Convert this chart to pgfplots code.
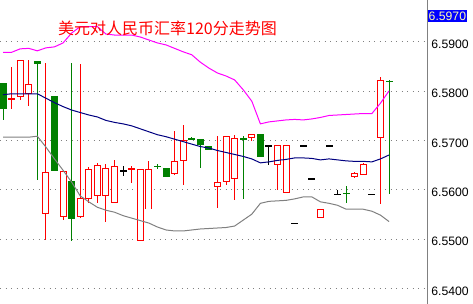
\documentclass[border=0pt]{standalone}
\usepackage{pgfplots}
\usepackage{pgfplotstable}
\pgfplotsset{compat=1.18}
\usepackage{fontspec}
\setmainfont{Liberation Sans}
\newfontfamily\cjk{Noto Sans CJK SC}
\definecolor{cRed}{RGB}{255,0,0}
\definecolor{cGreen}{RGB}{0,128,0}
\definecolor{cMag}{RGB}{255,0,255}
\definecolor{cNavy}{RGB}{0,0,128}
\definecolor{cGray}{RGB}{128,128,128}
\definecolor{cLab}{RGB}{255,255,170}

\pgfplotstableread{
i o h l c
1 6.5784 6.5850 6.5764 6.5787
2 6.5789 6.5865 6.5784 6.5865
3 6.5797 6.5865 6.5771 6.5816
5 6.5553 6.5857 6.5500 6.5638
7 6.5545 6.5638 6.5540 6.5638
9 6.5545 6.5857 6.5545 6.5583
10 6.5583 6.5647 6.5573 6.5644
11 6.5588 6.5655 6.5574 6.5650
12 6.5588 6.5655 6.5536 6.5646
13 6.5575 6.5661 6.5575 6.5650
15 6.5643 6.5650 6.5615 6.5644
16 6.5498 6.5644 6.5498 6.5644
17 6.5561 6.5659 6.5561 6.5644
20 6.5632 6.5720 6.5632 6.5659
21 6.5660 6.5733 6.5611 6.5701
25 6.5607 6.5711 6.5566 6.5617
26 6.5617 6.5711 6.5611 6.5711
27 6.5622 6.5711 6.5580 6.5705
29 6.5705 6.5713 6.5701 6.5713
32 6.5652 6.5691 6.5601 6.5691
33 6.5593 6.5691 6.5593 6.5691
37 6.5543 6.5562 6.5543 6.5562
41 6.5626 6.5638 6.5626 6.5634
42 6.5632 6.5657 6.5632 6.5654
44 6.5707 6.5831 6.5574 6.5823
}\redtab

\pgfplotstableread{
i o h l c
0 6.5817 6.5817 6.5744 6.5765
4 6.5861 6.5861 6.5620 6.5856
6 6.5790 6.5790 6.5639 6.5639
8 6.5618 6.5857 6.5497 6.5541
18 6.5649 6.5654 6.5644 6.5648
19 6.5646 6.5646 6.5627 6.5627
22 6.5707 6.5708 6.5703 6.5703
23 6.5703 6.5703 6.5645 6.5692
24 6.5689 6.5689 6.5680 6.5680
28 6.5705 6.5711 6.5584 6.5704
30 6.5715 6.5715 6.5667 6.5667
40 6.5594 6.5610 6.5575 6.5593
45 6.5821 6.5823 6.5593 6.5820
}\greentab

\pgfplotstableread{
i o h l c
14 6.5640 6.5650 6.5630 6.5640
31 6.5691 6.5691 6.5651 6.5691
34 6.5534 6.5534 6.5534 6.5534
35 6.5691 6.5691 6.5691 6.5691
36 6.5624 6.5624 6.5624 6.5624
38 6.5691 6.5691 6.5691 6.5691
39 6.5592 6.5601 6.5592 6.5592
43 6.5592 6.5592 6.5592 6.5592
}\blacktab

\pgfplotstableread{
i up mid low
0 6.5879 6.5793 6.5707
1 6.5879 6.5795 6.5707
2 6.5886 6.5795 6.5707
3 6.5887 6.5795 6.5707
4 6.5882 6.5795 6.5709
5 6.5888 6.5786 6.5687
6 6.5890 6.5777 6.5663
7 6.5898 6.5769 6.5640
8 6.5918 6.5762 6.5616
9 6.5931 6.5757 6.5588
10 6.5931 6.5752 6.5576
11 6.5931 6.5748 6.5565
12 6.5916 6.5741 6.5559
13 6.5914 6.5737 6.5555
14 6.5914 6.5734 6.5548
15 6.5914 6.5730 6.5543
16 6.5910 6.5724 6.5538
17 6.5904 6.5718 6.5533
18 6.5898 6.5712 6.5525
19 6.5894 6.5708 6.5519
20 6.5887 6.5703 6.5517
21 6.5880 6.5698 6.5517
22 6.5874 6.5693 6.5519
23 6.5859 6.5688 6.5521
24 6.5847 6.5685 6.5522
25 6.5837 6.5680 6.5523
26 6.5831 6.5676 6.5524
27 6.5823 6.5672 6.5527
28 6.5803 6.5668 6.5539
29 6.5780 6.5663 6.5551
30 6.5734 6.5655 6.5573
31 6.5738 6.5657 6.5577
32 6.5740 6.5660 6.5578
33 6.5742 6.5662 6.5579
34 6.5743 6.5665 6.5582
35 6.5742 6.5665 6.5586
36 6.5744 6.5664 6.5586
37 6.5747 6.5661 6.5576
38 6.5751 6.5663 6.5573
39 6.5752 6.5661 6.5569
40 6.5753 6.5659 6.5561
41 6.5754 6.5658 6.5561
42 6.5755 6.5658 6.5561
43 6.5755 6.5657 6.5557
44 6.5776 6.5663 6.5549
45 6.5801 6.5671 6.5536
}\bandtab

\pgfplotsset{
  wick/.style={draw=none, mark=none, forget plot,
    error bars/.cd, y dir=both, y explicit, error mark=none,
    error mark options={draw=none, fill=none},
    error bar style={line width=1pt, draw=#1}},
  body/.style 2 args={draw=none, mark=none, forget plot,
    error bars/.cd, y dir=both, y explicit, error mark=none,
    error mark options={draw=none, fill=none},
    error bar style={line width=#2, draw=#1}},
}

\begin{document}
\begin{tikzpicture}
\useasboundingbox (0,0) rectangle (473pt,304pt);
\begin{axis}[
  at={(0,0)}, anchor=south west,
  scale only axis, width=427pt, height=304pt,
  xmin=-0.35, xmax=49.42, ymin=6.5369, ymax=6.5985,
  clip=false,
  axis x line=none, axis y line=right,
  y axis line style={-, draw=cGray, line width=1pt},
  ytick={6.54,6.55,6.56,6.57,6.58,6.59},
  yticklabels={6.5400,6.5500,6.5600,6.5700,6.5800,6.5900},
  ytick style={draw=none},
  yticklabel style={font=\fontsize{12.2}{12.2}\selectfont, anchor=west, inner sep=0pt, xshift=2pt, yshift=-2.3pt, text=black},
  ymajorgrids,
  major grid style={cGray, line width=1pt, dash pattern=on 1pt off 4.5pt},
]
% wicks
\addplot[wick=cRed] table[x=i, y expr={(\thisrow{h}+\thisrow{l})/2}, y error expr={(\thisrow{h}-\thisrow{l})/2}] {\redtab};
\addplot[wick=cGreen] table[x=i, y expr={(\thisrow{h}+\thisrow{l})/2}, y error expr={(\thisrow{h}-\thisrow{l})/2}] {\greentab};
\addplot[wick=black] table[x=i, y expr={(\thisrow{h}+\thisrow{l})/2}, y error expr={(\thisrow{h}-\thisrow{l})/2}] {\blacktab};
% bodies
\addplot[body={cRed}{7pt}] table[x=i, y expr={(\thisrow{o}+\thisrow{c})/2}, y error expr={max(abs(\thisrow{c}-\thisrow{o})/2,0.0001)}] {\redtab};
\addplot[body={white}{5pt}] table[x=i, y expr={(\thisrow{o}+\thisrow{c})/2}, y error expr={max(abs(\thisrow{c}-\thisrow{o})/2-0.0002,0)}] {\redtab};
\addplot[body={cGreen}{7pt}] table[x=i, y expr={(\thisrow{o}+\thisrow{c})/2}, y error expr={max(abs(\thisrow{c}-\thisrow{o})/2,0.0001)}] {\greentab};
\addplot[body={black}{7pt}] table[x=i, y expr={(\thisrow{o}+\thisrow{c})/2}, y error expr={max(abs(\thisrow{c}-\thisrow{o})/2,0.0001)}] {\blacktab};
% bands
\addplot[cMag, line width=1pt, mark=none] table[x=i, y=up] {\bandtab};
\addplot[cNavy, line width=1pt, mark=none] table[x=i, y=mid] {\bandtab};
\addplot[cGray, line width=1pt, mark=none] table[x=i, y=low] {\bandtab};
% title and price box
\node[anchor=west, inner sep=0pt, text=cRed, font=\cjk\fontsize{16}{16}\selectfont] at (rel axis cs:0.1358,0.9079) {美元对人民币汇率120分走势图};
\node[anchor=north west, fill=blue, text=cLab, inner sep=0pt, minimum width=39.4pt, minimum height=11.7pt, font=\fontsize{12.2}{12.2}\selectfont] at ([xshift=0.5pt]rel axis cs:1,0.9671) {6.5970};
\end{axis}
\end{tikzpicture}
\end{document}
